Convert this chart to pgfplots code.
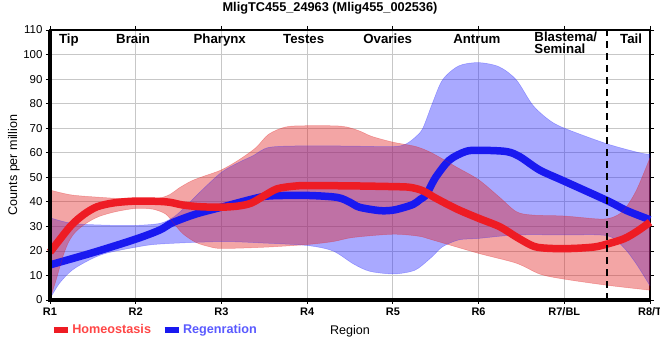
\documentclass[border=0pt]{standalone}
\usepackage{pgfplots}
\pgfplotsset{compat=1.18}
\usepgfplotslibrary{fillbetween}
\usepackage{fontspec}
\setmainfont{Liberation Sans}
\definecolor{bandred}{RGB}{225,30,30}
\definecolor{bandblue}{RGB}{40,40,255}
\definecolor{linered}{RGB}{238,28,36}
\definecolor{lineblue}{RGB}{25,25,240}
\definecolor{legred}{RGB}{255,70,70}
\definecolor{legblue}{RGB}{90,90,255}
\begin{document}
\begin{tikzpicture}
\begin{axis}[
 at={(0,0)}, anchor=south west,
 scale only axis, width=600bp, height=270bp,
 xmin=0, xmax=7, ymin=0, ymax=110,
 clip=false,
 xtick={0,...,7}, xticklabels={R1,R2,R3,R4,R5,R6,R7/BL,R8/T},
 ytick={0,10,...,110},
 grid=major, grid style={draw=black!22, line width=0.8bp},
 tick align=outside, major tick length=4bp,
 tick style={black, line width=0.8bp},
 axis line style={line width=1.2bp},
 /pgf/number format/assume math mode=true,
 xticklabel style={font=\bfseries\fontsize{11}{12}\selectfont},
 yticklabel style={font=\fontsize{11.5}{12}\selectfont},
 xlabel=Region,
 xlabel style={at={(axis description cs:0.5,-0.115)}, anchor=center, font=\fontsize{12.6}{14}\selectfont},
 ylabel=Counts per million,
 ylabel style={at={(axis description cs:-0.06,0.5)}, anchor=center, font=\fontsize{12.6}{14}\selectfont},
 legend style={at={(axis description cs:-0.004,-0.111)}, anchor=west, draw=none, fill=none,
   font=\bfseries\fontsize{12.7}{14}\selectfont, nodes={inner sep=1.5bp},
   /tikz/every even column/.append style={column sep=9bp}},
 legend columns=2,
 reverse legend,
 legend image code/.code={\draw[line width=6bp] (0bp,0bp) -- (14bp,0bp);},
]
% ---------- Regeneration band ----------
\addplot[name path=ru, smooth, tension=0.5, draw=bandblue, draw opacity=0.35, line width=0.5bp, forget plot] coordinates {
(0,33.5) (0.26,31.2) (0.65,30.5) (1,30.4) (1.28,31.2) (1.43,33.5) (1.55,37) (1.75,44) (2,52) (2.2,56) (2.37,58.8) (2.56,62.2) (3,62.8) (3.5,62.7) (4,62.5) (4.15,63.5) (4.27,66.6) (4.35,70) (4.46,80) (4.58,89.7) (4.77,95.4) (5,96.7) (5.24,95) (5.44,89.7) (5.63,79.5) (5.82,73.4) (6,70) (6.5,63.6) (6.9,59.8) (7,59.5)};
\addplot[name path=rl, smooth, tension=0.5, draw=bandblue, draw opacity=0.35, line width=0.5bp, forget plot] coordinates {
(0,0.5) (0.11,6.8) (0.26,12.2) (0.46,16.3) (0.65,19) (1,21.5) (1.28,22.8) (2,23.8) (2.5,23.2) (3,22.2) (3.3,20) (3.54,14.7) (3.73,11.7) (4,10.6) (4.2,11.5) (4.3,13) (4.46,17.7) (4.58,21.7) (4.77,24.5) (5,25.1) (5.44,26.5) (6,26.5) (6.5,26.2) (6.69,21.5) (6.84,14.7) (7,5.8)};
\addplot[fill=bandblue, fill opacity=0.4, draw=none, forget plot] fill between[of=ru and rl];
% ---------- Regeneration mean ----------
\addplot[smooth, tension=0.5, color=lineblue, line width=7.5bp] coordinates {
(0,14.3) (0.5,19.3) (1,24.8) (1.28,28.5) (1.43,31.5) (1.7,35) (2,37.8) (2.37,41.2) (2.56,42.4) (3,42.6) (3.35,41.8) (3.5,39.8) (3.61,37.8) (3.85,36.4) (4,36.6) (4.12,37.6) (4.24,39) (4.32,41) (4.39,43) (4.5,50) (4.66,57) (4.85,60.5) (5,61) (5.32,60.5) (5.48,58.4) (5.71,53) (6,48.4) (6.5,40.5) (6.73,36.4) (7,32.7)};
\addlegendentry{\textcolor{legblue}{Regenration}}
% ---------- Homeostasis band ----------
\addplot[name path=hu, smooth, tension=0.5, draw=bandred, draw opacity=0.35, line width=0.5bp, forget plot] coordinates {
(0,44.8) (0.25,42.8) (0.6,41.8) (1,41) (1.25,41.3) (1.4,43) (1.5,45.5) (1.65,48.5) (1.8,50.5) (2,53) (2.2,57) (2.4,62) (2.55,67.5) (2.75,70.5) (3,71) (3.4,70.8) (3.6,69) (3.75,66.7) (4,64.3) (4.27,62.5) (4.46,59.8) (4.75,54) (5,49) (5.24,42) (5.44,36) (5.63,34.6) (6,34.2) (6.4,33) (6.55,33.5) (6.69,36.4) (6.84,44.6) (7,58)};
\addplot[name path=hl, smooth, tension=0.5, draw=bandred, draw opacity=0.35, line width=0.5bp, forget plot] coordinates {
(0,0.5) (0.07,8) (0.15,17.7) (0.22,23.8) (0.3,27.8) (0.42,31.2) (0.57,34) (0.77,36) (1,37.3) (1.2,37) (1.35,35) (1.45,31) (1.55,27) (1.7,23.5) (1.85,21.8) (2,21) (2.5,21.5) (3,22.6) (3.3,23.8) (3.54,25.5) (4,26.8) (4.3,26) (4.46,24.5) (5,19) (5.44,15) (5.72,10.5) (6,8.5) (6.5,6) (7,4)};
\addplot[fill=bandred, fill opacity=0.4, draw=none, forget plot] fill between[of=hu and hl];
% ---------- Homeostasis mean ----------
\addplot[smooth, tension=0.5, color=linered, line width=7.5bp] coordinates {
(0,19.5) (0.1,24) (0.25,30.5) (0.4,35) (0.55,38) (0.75,39.6) (1,40.3) (1.25,40.2) (1.4,39.8) (1.55,38.7) (1.75,38) (2,37.8) (2.2,38.3) (2.35,39.5) (2.5,42.5) (2.65,45.3) (2.85,46.4) (3,46.6) (3.5,46.5) (4,46.2) (4.2,45.9) (4.35,44.5) (4.5,41.5) (4.75,37) (5,33.3) (5.25,29.8) (5.45,25.5) (5.65,21.8) (5.85,21) (6.1,21) (6.35,21.6) (6.5,22.8) (6.7,25) (6.85,28) (7,31.7)};
\addlegendentry{\textcolor{legred}{Homeostasis}}
% ---------- decorations ----------
\draw[black, line width=2.5bp, dash pattern=on 7bp off 5bp] (axis cs:6.5,0) -- (axis cs:6.5,110);
\draw[black, line width=3bp] (rel axis cs:0,1) -- (rel axis cs:0,0) -- (rel axis cs:1,0);
\begin{scope}[font=\bfseries\fontsize{13.3}{12}\selectfont]
\node[anchor=base] at (axis cs:0.22,104.3) {Tip};
\node[anchor=base] at (axis cs:0.97,104.3) {Brain};
\node[anchor=base] at (axis cs:1.98,104.3) {Pharynx};
\node[anchor=base] at (axis cs:2.96,104.3) {Testes};
\node[anchor=base] at (axis cs:3.94,104.3) {Ovaries};
\node[anchor=base] at (axis cs:4.98,104.3) {Antrum};
\node[anchor=north west, align=left, inner sep=0pt] at (axis cs:5.65,109.2) {Blastema/\\Seminal};
\node[anchor=base] at (axis cs:6.78,104.3) {Tail};
\end{scope}
\end{axis}
\node[font=\bfseries\fontsize{12.8}{14}\selectfont] at (280bp,292bp) {MligTC455\_24963 (Mlig455\_002536)};
\pgfresetboundingbox
\path (-50bp,-60bp) rectangle (610bp,300bp);
\end{tikzpicture}
\end{document}
